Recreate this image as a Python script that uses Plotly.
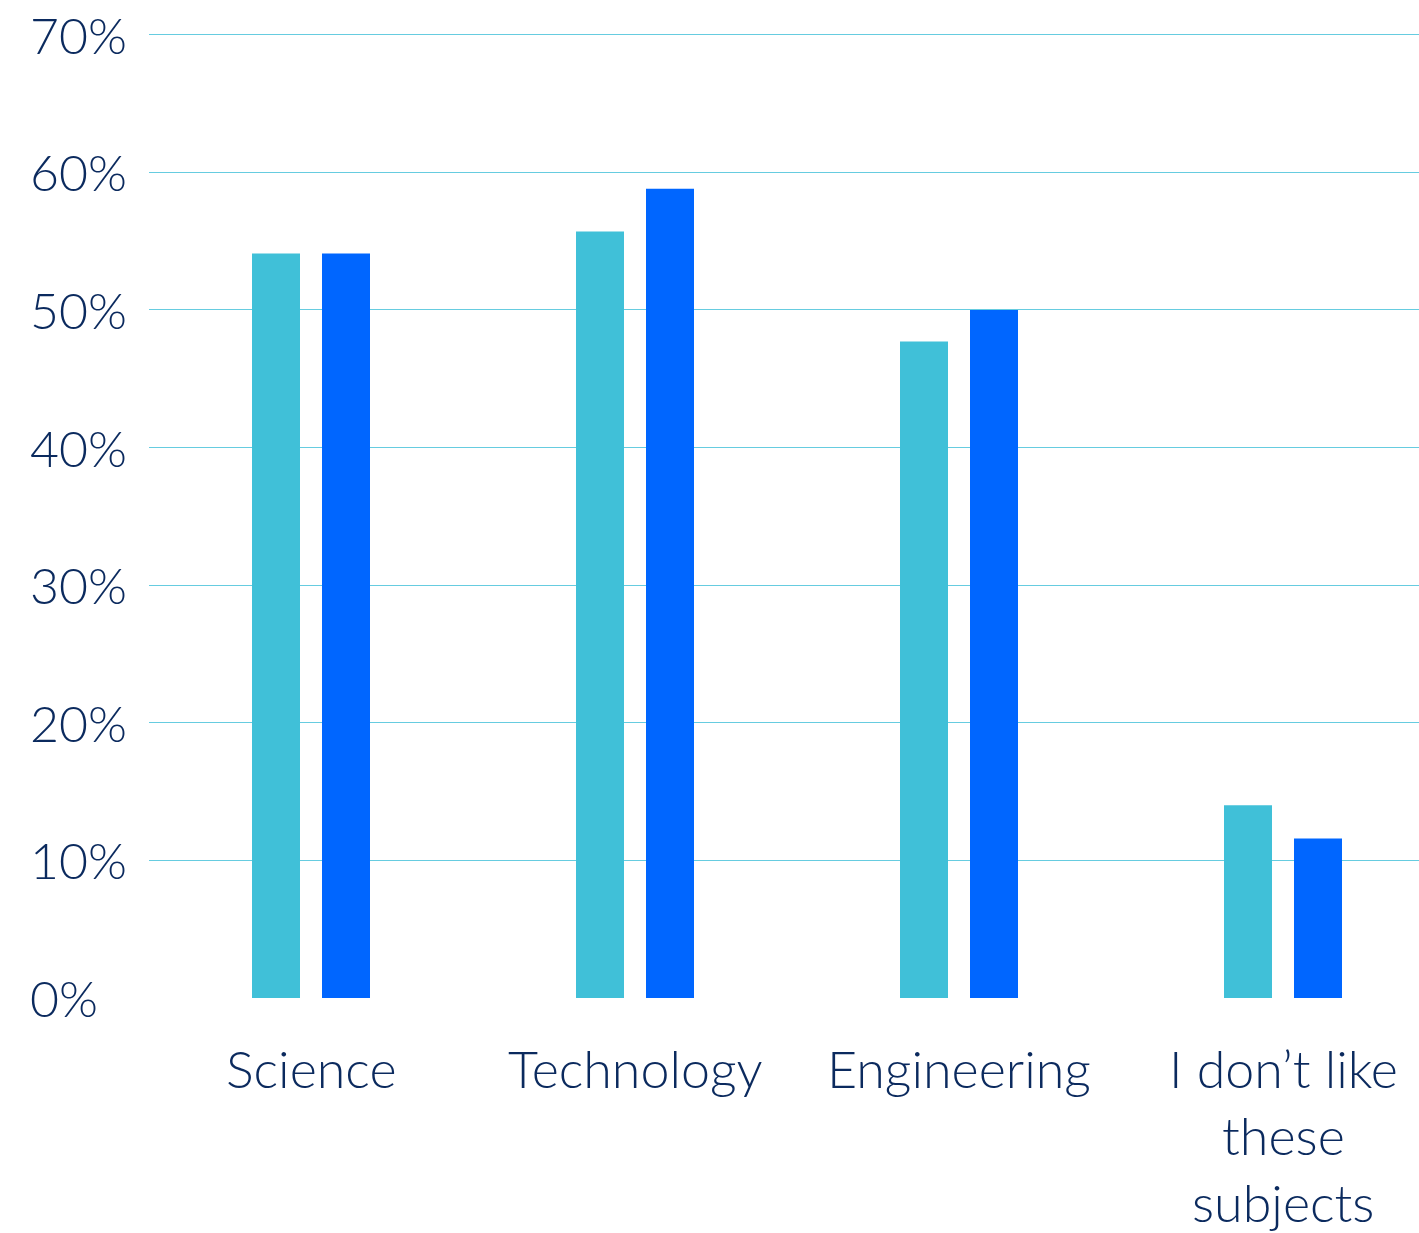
import plotly.graph_objects as go

# Survey data: share of respondents per subject, two groups
categories = ["Science", "Technology", "Engineering", "I don’t like these subjects"]
label_lines = [["Science"], ["Technology"], ["Engineering"], ["I don’t like", "these", "subjects"]]
series_a = [54.1, 55.7, 47.7, 14.0]
series_b = [54.1, 58.8, 50.0, 11.6]
y_ticks = [0, 10, 20, 30, 40, 50, 60, 70]
y_tick_labels = ["0%", "10%", "20%", "30%", "40%", "50%", "60%", "70%"]

LIGHT = "#40C0D8"
DARK = "#0066FF"
NAVY = "#0B2A5E"
GRID = "#66CCE0"
FONT = "Lato"
FONT_W = 300
Y_SIZE = 50
X_SIZE = 52

W, H = 1419, 1233
zero_px, top_px = 998, 35          # pixel rows of the 0% and 70% gridlines
y_top = y_ticks[-1] + 0.2          # headroom so the top gridline is not dropped at the edge
px_per_unit = (zero_px - top_px) / y_ticks[-1]
M_L, M_R, M_B = 149, 0, H - zero_px
M_T = round(zero_px - px_per_unit * y_top)
plot_w = W - M_L - M_R
plot_h = H - M_T - M_B
cat_px = 324.0  # pixel width of each category slot
x_max = -0.5 + plot_w / cat_px

xs = list(range(len(categories)))
bar_w = 48 / cat_px
gap = 22 / cat_px

fig = go.Figure()
fig.add_trace(go.Bar(x=xs, y=series_a, width=bar_w, offset=-gap / 2 - bar_w,
                     marker=dict(color=LIGHT, line=dict(width=0)), showlegend=False))
fig.add_trace(go.Bar(x=xs, y=series_b, width=bar_w, offset=gap / 2,
                     marker=dict(color=DARK, line=dict(width=0)), showlegend=False))

annotations = []
# y tick labels, left aligned
for v, t in zip(y_ticks, y_tick_labels):
    annotations.append(dict(text=t, xref="paper", yref="y", x=(28 - M_L) / plot_w, y=v,
                            xanchor="left", yanchor="middle", showarrow=False,
                            font=dict(family=FONT, size=Y_SIZE, color=NAVY, weight=FONT_W)))
# category labels, one annotation per line
line_step = 67
for i, lines in enumerate(label_lines):
    for j, ln in enumerate(lines):
        py = 1068 + j * line_step
        annotations.append(dict(text=ln, xref="x", yref="paper", x=i,
                                y=-(py - zero_px) / plot_h,
                                xanchor="center", yanchor="middle", showarrow=False,
                                font=dict(family=FONT, size=X_SIZE, color=NAVY, weight=FONT_W)))

fig.update_layout(
    width=W, height=H,
    margin=dict(l=M_L, r=M_R, t=M_T, b=M_B),
    paper_bgcolor="white", plot_bgcolor="white",
    barmode="overlay",
    annotations=annotations,
    xaxis=dict(range=[-0.5, x_max], showticklabels=False, showgrid=False,
               zeroline=False, showline=False, ticks=""),
    yaxis=dict(range=[0, y_top], tickvals=y_ticks, showticklabels=False,
               showgrid=True, gridcolor=GRID, gridwidth=1,
               zeroline=False, showline=False, ticks=""),
)

fig.write_html("out.html")
